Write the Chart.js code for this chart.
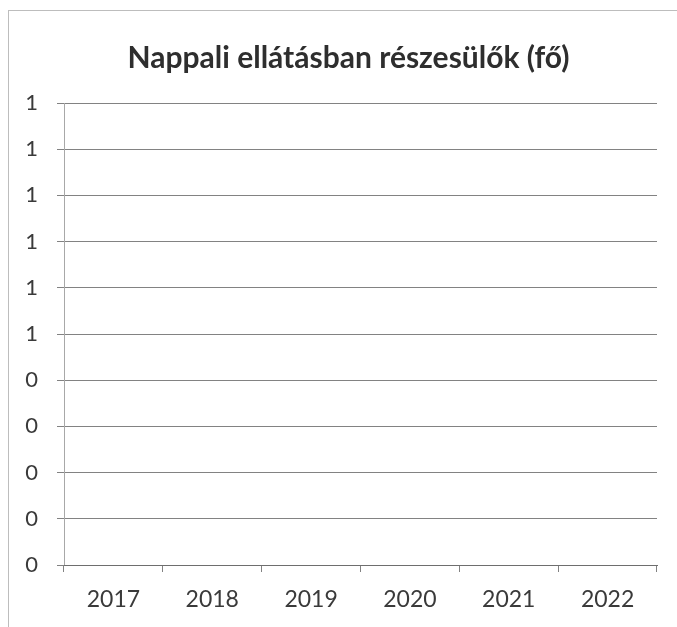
<!DOCTYPE html>
<html>
<head>
<meta charset="utf-8">
<script src="https://cdn.jsdelivr.net/npm/chart.js@4"></script>
<style>
  body { margin: 0; background: #fff; overflow: hidden; }
  #keret { position: absolute; left: 8px; top: 10px; width: 700px; height: 700px; border-left: 1px solid #bdbdbd; border-top: 1px solid #bdbdbd; }
  #doboz { position: absolute; left: 0; top: 0; width: 677px; height: 627px; }
</style>
</head>
<body>
<div id="keret"></div>
<div id="doboz"><canvas id="myChart" width="677" height="627"></canvas></div>
<script>
// adatok
var evek = ['2017', '2018', '2019', '2020', '2021', '2022'];
var resztvevok = [0, 0, 0, 0, 0, 0];
var cim = 'Nappali ellátásban részesülők (fő)';
var yMin = 0;
var yMax = 1;
var yLepes = 0.1;

var szovegSzin = '#3a3a3a';
var racsSzin = '#828282';

// a cím kicsit jobbra van a képen, mint a rajzterület közepe
var cimEltolas = {
    id: 'cimEltolas',
    afterLayout: function (chart) {
        if (chart.titleBlock) {
            chart.titleBlock.left += 20;
            chart.titleBlock.right += 20;
        }
    }
};

new Chart(document.getElementById('myChart'), {
    type: 'bar',
    data: {
        labels: evek,
        datasets: [{
            label: cim,
            data: resztvevok,
            backgroundColor: '#4f81bd'
        }]
    },
    options: {
        responsive: false,
        animation: false,
        layout: {
            padding: { left: 0, right: 20, top: 0, bottom: 0 }
        },
        plugins: {
            legend: { display: false },
            tooltip: { enabled: false },
            title: {
                display: true,
                text: cim,
                color: '#2e2e2e',
                font: { family: 'Lato', size: 30, weight: 'bold', lineHeight: 1.2 },
                padding: { top: 40, bottom: 27 }
            }
        },
        scales: {
            y: {
                min: yMin,
                max: yMax,
                ticks: {
                    stepSize: yLepes,
                    color: szovegSzin,
                    padding: 19,
                    font: { family: 'Lato', size: 22 },
                    callback: function (v) { return Math.round(v).toString(); }
                },
                grid: {
                    color: racsSzin,
                    lineWidth: 1,
                    tickLength: 7
                },
                border: { display: true, color: '#a8a8a8' },
                afterFit: function (scale) { scale.width = 64; }
            },
            x: {
                ticks: {
                    color: szovegSzin,
                    padding: 14,
                    font: { family: 'Lato', size: 23 }
                },
                grid: {
                    drawOnChartArea: false,
                    color: racsSzin,
                    tickLength: 7
                },
                border: { display: true, color: '#6e6e6e' },
                afterFit: function (scale) { scale.height = 62; }
            }
        }
    },
    plugins: [cimEltolas]
});
</script>
</body>
</html>
